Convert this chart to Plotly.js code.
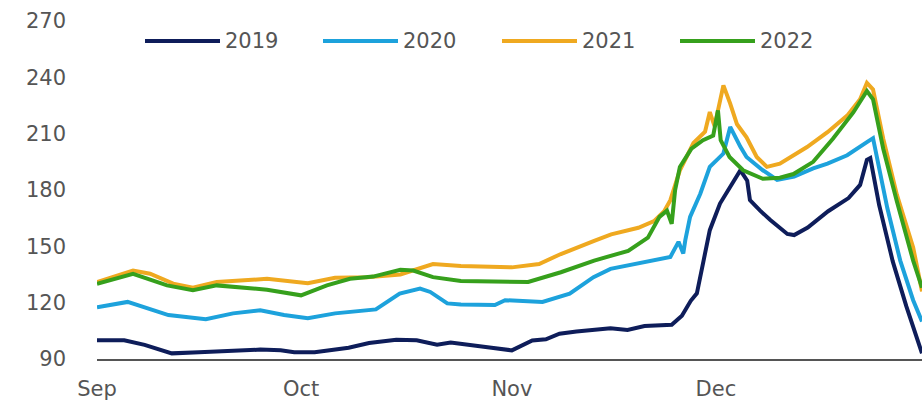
<!DOCTYPE html>
<html>
<head>
<meta charset="utf-8">
<script src="https://cdn.plot.ly/plotly-3.0.1.min.js"></script>
<style>
  html, body { margin: 0; padding: 0; background: #ffffff; }
  #chart { width: 922px; height: 400px; }
</style>
</head>
<body>
<div id="chart"></div>
<script>
// ---- Data (day offset from 1 Sep, value) ----
const seriesNames = ['2019', '2020', '2021', '2022'];
const seriesColors = ['#0e1d5a', '#1da2dc', '#efa920', '#36a01c'];

const days2019 = [0, 4, 7, 11, 15, 20, 24, 27, 29, 32, 37, 40, 44, 47, 50, 52, 55, 58, 61, 64, 66, 68, 70.5, 75.5, 78, 80.5, 84.5, 86, 87.3, 88.2, 89.2, 90.1, 91.6, 93.1, 94.6, 95.6, 96, 97.5, 99, 101.5, 102.5, 104.5, 107.5, 110.5, 112.2, 113.2, 113.7, 115, 117, 119, 121.3];
const vals2019 = [100, 100, 97.5, 93, 93.6, 94.6, 95, 94.6, 93.6, 93.6, 96, 98.5, 100.3, 100, 97.6, 98.8, 97.6, 96, 94.6, 99.9, 100.5, 103.5, 104.6, 106.4, 105.5, 107.6, 108.2, 113, 121, 125, 142.7, 158.6, 172.8, 181.6, 190.5, 185, 174.6, 169, 164, 156.6, 156, 160, 168.7, 175.7, 182.7, 196, 197, 172, 142, 118, 93];

const days2020 = [0, 4.5, 10.5, 16, 20, 24, 27.5, 31, 35, 41, 44.5, 47.5, 49, 51.5, 53.5, 58.5, 60, 63.5, 65.5, 69.5, 73, 75.5, 79, 82, 84.3, 85.5, 86.2, 86.5, 87.2, 88.7, 90.1, 92.1, 93.1, 94.6, 95.5, 97.9, 100, 102.5, 105.3, 107.4, 110.3, 113.2, 114.1, 116.2, 118.1, 120, 121.3];
const vals2020 = [117.5, 120.4, 113.4, 111.2, 114.3, 116, 113.4, 111.7, 114.3, 116.4, 124.8, 127.5, 125.7, 119.6, 119, 118.7, 121.3, 120.4, 120.4, 124.8, 133.6, 138, 140.6, 142.7, 144.4, 152.4, 146.2, 153.3, 165.7, 178, 192.3, 199.4, 213.6, 203, 197.6, 190.5, 185.4, 187.1, 191.5, 194.1, 198.5, 205.5, 207.6, 170.4, 142.4, 121.3, 110];

const days2021 = [0, 5.3, 7.8, 11.2, 14.1, 17.6, 25, 31, 35, 39.7, 44.6, 49.4, 53.5, 61, 65, 68.2, 73.1, 75.6, 79.6, 81.9, 83.4, 84.3, 85.7, 87.7, 89.4, 90.1, 90.8, 92.1, 93.1, 94.1, 95.5, 97, 98.5, 100.4, 104.4, 107.4, 110.3, 112.2, 113.2, 114.1, 115.6, 117.6, 120, 121.3];
const vals2021 = [131, 137.1, 135.4, 130.1, 128, 131, 132.7, 130.4, 133.3, 133.6, 135, 140.6, 139.5, 138.8, 140.6, 145.9, 152.9, 156.4, 159.9, 163.4, 168.7, 174.6, 190.5, 205, 211, 221.5, 214, 235.7, 226, 215, 208, 197.6, 192.3, 194, 202.9, 210.8, 219.6, 228.3, 237.1, 233.6, 207.3, 177.5, 149.4, 126];

const days2022 = [0, 5.3, 10.3, 14.1, 17.6, 25, 30, 33.8, 37.2, 40.6, 44.6, 46.5, 49.4, 53.5, 63.4, 68.2, 73.1, 78.1, 81, 82.7, 83.8, 84.5, 85, 85.7, 87.4, 89.1, 90.6, 91.3, 91.7, 93, 95, 97.9, 100.4, 102.4, 105.3, 108.2, 111.2, 113.2, 114.1, 115.6, 117.6, 120, 121.3];
const vals2022 = [130.1, 135.4, 129.2, 126.6, 129.2, 126.9, 123.9, 129.2, 132.7, 133.9, 137.5, 137.1, 133.6, 131.5, 131, 136.2, 142.4, 147.6, 154.6, 165.7, 169, 162, 180, 192.3, 202, 206.5, 209, 222.4, 206.5, 197.6, 190.5, 186, 186.5, 188.5, 195, 207.3, 221.3, 232.7, 228.3, 202, 174, 142.4, 128];

const tickVals = ['2022-09-01', '2022-10-01', '2022-11-01', '2022-12-01'];
const tickText = ['Sep', 'Oct', 'Nov', 'Dec'];
const yTicks = [90, 120, 150, 180, 210, 240, 270];

// ---- Build ----
const seasonStart = Date.UTC(2022, 8, 1);
function toDate(d) {
  return new Date(seasonStart + d * 86400000).toISOString().slice(0, 16).replace('T', ' ');
}
const allDays = [days2019, days2020, days2021, days2022];
const allVals = [vals2019, vals2020, vals2021, vals2022];

const traces = seriesNames.map((name, i) => ({
  type: 'scatter',
  mode: 'lines',
  name: name,
  x: allDays[i].map(toDate),
  y: allVals[i],
  line: { color: seriesColors[i], width: 4, shape: 'linear' },
  hoverinfo: 'skip'
}));

const W = 922, H = 400;
const M = { l: 97, r: 0, t: 21, b: 41 };
const plotW = W - M.l - M.r, plotH = H - M.t - M.b;
const px2paperX = px => (px - M.l) / plotW;
const px2paperY = py => (H - M.b - py) / plotH;

const textFont = { family: 'DejaVu Sans, sans-serif', size: 21, color: '#555555' };

// custom legend (long line samples like the original)
const legendStartX = [145, 323, 502, 680];
const legendLineLen = 75;
const legendY = 41;
const shapes = seriesNames.map((n, i) => ({
  type: 'line', xref: 'paper', yref: 'paper',
  x0: px2paperX(legendStartX[i]), x1: px2paperX(legendStartX[i] + legendLineLen),
  y0: px2paperY(legendY), y1: px2paperY(legendY),
  line: { color: seriesColors[i], width: 4 }
}));
const annotations = seriesNames.map((n, i) => ({
  xref: 'paper', yref: 'paper',
  x: px2paperX(legendStartX[i] + legendLineLen + 3), y: px2paperY(legendY),
  xanchor: 'left', yanchor: 'middle',
  text: n, showarrow: false, font: textFont
}));

const layout = {
  width: W, height: H,
  margin: M,
  paper_bgcolor: '#ffffff',
  plot_bgcolor: '#ffffff',
  showlegend: false,
  font: textFont,
  xaxis: {
    type: 'date',
    range: [toDate(0), toDate(121.3)],
    tickvals: tickVals,
    ticktext: tickText,
    showgrid: false,
    zeroline: false,
    showline: true,
    linecolor: '#555555',
    linewidth: 2,
    ticks: '',
    ticklabelstandoff: 10,
    tickfont: textFont,
    fixedrange: true
  },
  yaxis: {
    range: [90, 270],
    tickvals: yTicks,
    showgrid: false,
    zeroline: false,
    showline: false,
    ticks: '',
    ticklabelstandoff: 30,
    tickfont: textFont,
    fixedrange: true
  },
  shapes: shapes,
  annotations: annotations
};

Plotly.newPlot('chart', traces, layout, { staticPlot: true, displayModeBar: false });
</script>
</body>
</html>
